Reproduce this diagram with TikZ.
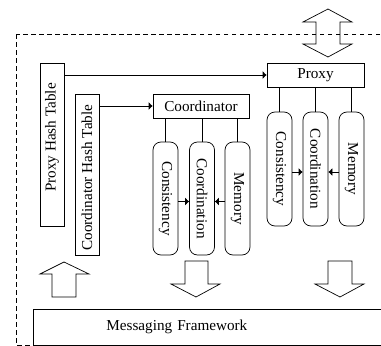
\documentclass[tikz,border=0pt]{standalone}
\usepackage{fontspec}
\setmainfont{Liberation Serif}
\usepackage{graphicx}
\usepackage{tikz}
\usetikzlibrary{arrows.meta}

\tikzset{
  box/.style={draw,inner sep=0pt},
  part/.style={draw,rounded corners=8pt,inner sep=0pt,minimum width=25pt},
  link/.style={-{Latex[length=4pt,width=8pt]}},
}

\begin{document}
\begin{tikzpicture}[x=1pt,y=-1pt,line width=0.7pt,every node/.style={font=\fontsize{15.2}{18}\selectfont}]
        \useasboundingbox (0,0) rectangle (381,346);
        \clip (0,0) rectangle (381,346);
        % frame and messaging layer
        \draw[dash pattern=on 4.5pt off 3.5pt] (16,34) rectangle (395,345);
        \node[box,anchor=west,minimum height=36,inner xsep=73pt,text width=216pt,align=left] (mf) at (33,327) {Messaging Framework};
        % hash tables
        \node[box,minimum width=24,minimum height=163] (pht) at (52,144.5) {\rotatebox{90}{\hspace{14pt}Proxy Hash Table}};
        \node[box,minimum width=24,minimum height=161] (cht) at (87,174.5) {\rotatebox{90}{Coordinator Hash Table\hspace{6pt}}};
        % coordinator
        \node[box,minimum width=96,minimum height=24] (co) at (201,106) {Coordinator};
        \node[part,minimum height=113] (cc) at (165.5,198.5) {\rotatebox{-90}{Consistency}};
        \node[part,minimum height=113] (cd) at (202,198.5) {\rotatebox{-90}{Coordination}};
        \node[part,minimum height=113] (cm) at (237.5,198.5) {\rotatebox{-90}{Memory}};
        % proxy
        \node[box,minimum width=97,minimum height=24] (px) at (315.5,75) {Proxy};
        \node[part,minimum height=114] (pc) at (279.5,169) {\rotatebox{-90}{Consistency}};
        \node[part,minimum height=114] (pd) at (315.5,169) {\rotatebox{-90}{Coordination}};
        \node[part,minimum height=114] (pm) at (351.5,169) {\rotatebox{-90}{Memory}};
        \draw[link] (pht.east |- px) -- (px.west);
        \draw[link] (cht.east |- co) -- (co.west);
        \foreach \p in {cc,cd,cm} \draw (\p.north) -- (\p.north |- co.south);
        \foreach \p in {pc,pd,pm} \draw (\p.north) -- (\p.north |- px.south);
        \draw[link] ([yshift=-3pt]cc.east) -- ([yshift=-3pt]cd.west);
        \draw[link] ([yshift=-3pt]cm.west) -- ([yshift=-3pt]cd.east);
        \draw[link] ([yshift=-3pt]pc.east) -- ([yshift=-3pt]pd.west);
        \draw[link] ([yshift=-3pt]pm.west) -- ([yshift=-3pt]pd.east);
        % block arrows
        \draw (316,22) -- (303,22) -- (328,9) -- (352,22) -- (340,22) -- (340,44) -- (352,44) -- (328,57) -- (303,44) -- (316,44) -- cycle;
        \draw (52,297) -- (52,274) -- (40,274) -- (64,262) -- (89,274) -- (76,274) -- (76,297) -- cycle;
        \draw (185,261) -- (185,284) -- (171,284) -- (196,297) -- (220,284) -- (208,284) -- (208,261) -- cycle;
        \draw (328,261) -- (328,284) -- (315,284) -- (340,297) -- (364,284) -- (352,284) -- (352,261) -- cycle;
      \end{tikzpicture}
\end{document}
